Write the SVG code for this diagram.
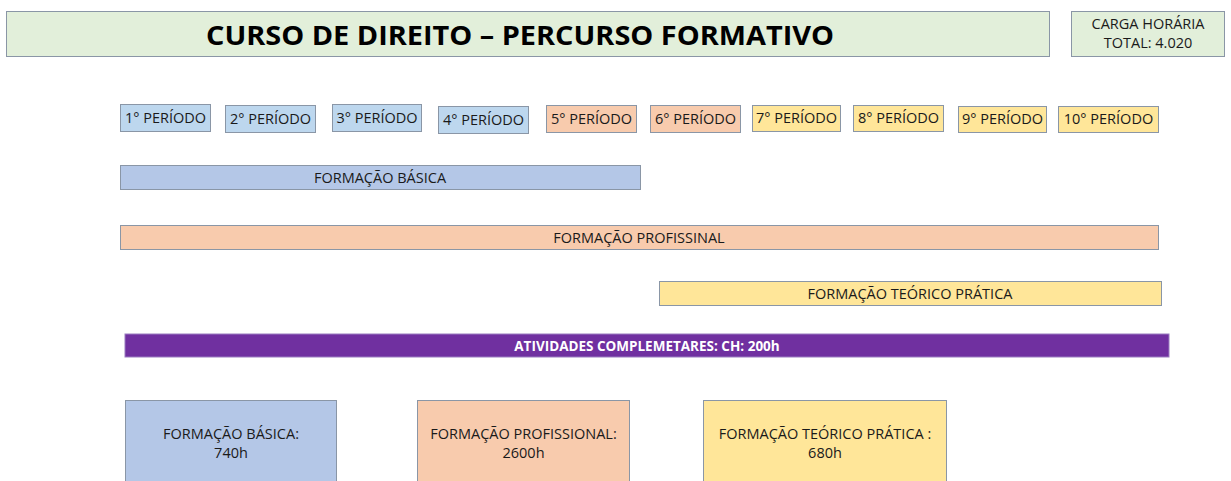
<svg xmlns="http://www.w3.org/2000/svg" width="1231" height="481" viewBox="0 0 1231 481">
<style>
text{font-family:"Open Sans","Liberation Sans",sans-serif;fill:#1a1a1a;text-anchor:middle}
.t{font-size:14.5px}
.b{stroke:#8a96a6;stroke-width:1}
.blue{fill:#bdd7ee}
.blue2{fill:#b4c7e7}
.or{fill:#f8cbad}
.ye{fill:#ffe699}
.gr{fill:#e2efda}
</style>
<rect width="1231" height="481" fill="#fff"/>
<g id="title"><rect class="b gr" x="6.5" y="11.5" width="1043" height="45"/><text x="520" y="44.5" style="font-size:27px;font-weight:bold;fill:#000" textLength="628" lengthAdjust="spacingAndGlyphs">CURSO DE DIREITO – PERCURSO FORMATIVO</text></g>
<g id="carga"><rect class="b gr" x="1071.5" y="11.5" width="153" height="45"/><text class="t" x="1148" y="29">CARGA HORÁRIA</text><text class="t" x="1148" y="48">TOTAL: 4.020</text></g>
<g id="p1"><rect class="b blue" x="120.5" y="104.5" width="90" height="27"/><text class="t" x="165.5" y="122.5">1° PERÍODO</text></g>
<g id="p2"><rect class="b blue" x="225.5" y="105.5" width="90" height="27"/><text class="t" x="270.5" y="123.5">2° PERÍODO</text></g>
<g id="p3"><rect class="b blue" x="332.5" y="104.5" width="89" height="27"/><text class="t" x="377" y="122.5">3° PERÍODO</text></g>
<g id="p4"><rect class="b blue" x="438.5" y="106.5" width="90" height="27"/><text class="t" x="483.5" y="124.5">4° PERÍODO</text></g>
<g id="p5"><rect class="b or" x="546.5" y="105.5" width="90" height="27"/><text class="t" x="591.5" y="123.5">5° PERÍODO</text></g>
<g id="p6"><rect class="b or" x="650.5" y="105.5" width="90" height="27"/><text class="t" x="695.5" y="123.5">6° PERÍODO</text></g>
<g id="p7"><rect class="b ye" x="752.5" y="105.5" width="88" height="26"/><text class="t" x="796.5" y="123">7° PERÍODO</text></g>
<g id="p8"><rect class="b ye" x="853.5" y="105.5" width="90" height="26"/><text class="t" x="898.5" y="123">8° PERÍODO</text></g>
<g id="p9"><rect class="b ye" x="958.5" y="106.5" width="88" height="26"/><text class="t" x="1002.5" y="124">9° PERÍODO</text></g>
<g id="p10"><rect class="b ye" x="1058.5" y="106.5" width="100" height="26"/><text class="t" x="1108.5" y="124">10° PERÍODO</text></g>
<g id="fb"><rect class="b blue2" x="120.5" y="165.5" width="520" height="24"/><text class="t" x="380" y="182.5">FORMAÇÃO BÁSICA</text></g>
<g id="fp"><rect class="b or" x="120.5" y="225.5" width="1038" height="24"/><text class="t" x="639" y="242.5">FORMAÇÃO PROFISSINAL</text></g>
<g id="ft"><rect class="b ye" x="659.5" y="281.5" width="502" height="24"/><text class="t" x="910" y="298.5">FORMAÇÃO TEÓRICO PRÁTICA</text></g>
<g id="ac"><rect x="125" y="334" width="1044" height="23" fill="#7030a0" stroke="#9a7cc0"/><text x="647" y="350.5" style="font-size:13.5px;font-weight:bold;fill:#fff">ATIVIDADES COMPLEMETARES: CH: 200h</text></g>
<g id="cb"><rect class="b blue2" x="125.5" y="400.5" width="211" height="90"/><text class="t" x="231" y="439">FORMAÇÃO BÁSICA:</text><text class="t" x="231" y="458">740h</text></g>
<g id="cp"><rect class="b or" x="417.5" y="400.5" width="212" height="90"/><text class="t" x="523.5" y="439">FORMAÇÃO PROFISSIONAL:</text><text class="t" x="523.5" y="458">2600h</text></g>
<g id="ct"><rect class="b ye" x="703.5" y="400.5" width="243" height="90"/><text class="t" x="825" y="439">FORMAÇÃO TEÓRICO PRÁTICA :</text><text class="t" x="825" y="458">680h</text></g>
<g id="connectors"/>
</svg>
